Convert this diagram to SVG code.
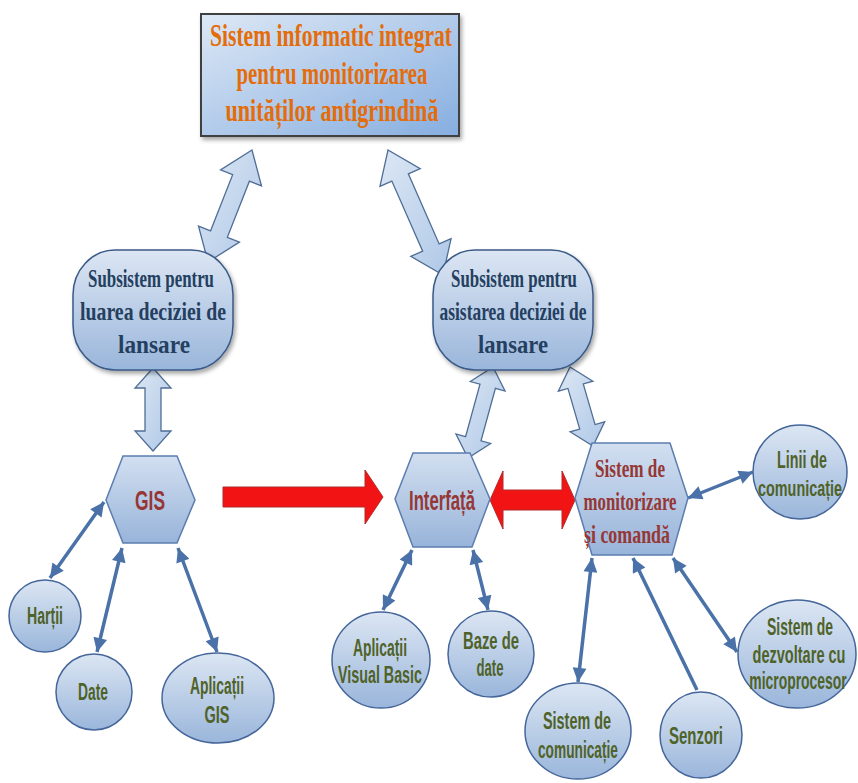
<svg xmlns="http://www.w3.org/2000/svg" width="858" height="783" viewBox="0 0 858 783">
<defs>
<linearGradient id="gTitle" x1="0" y1="0" x2="1" y2="1">
<stop offset="0" stop-color="#DDE8F5"/><stop offset="1" stop-color="#86AEE0"/>
</linearGradient>
<linearGradient id="gNode" x1="0" y1="0" x2="0" y2="1">
<stop offset="0" stop-color="#DCE6F3"/><stop offset="1" stop-color="#9AB6DB"/>
</linearGradient>
<linearGradient id="gHex" x1="0" y1="0" x2="0" y2="1">
<stop offset="0" stop-color="#D2DFF0"/><stop offset="1" stop-color="#98B4DA"/>
</linearGradient>
<linearGradient id="gBlock" x1="0" y1="0" x2="1" y2="1">
<stop offset="0" stop-color="#DCE7F4"/><stop offset="1" stop-color="#AFC8E7"/>
</linearGradient>
<filter id="shadow" x="-10%" y="-10%" width="130%" height="130%">
<feDropShadow dx="2" dy="3" stdDeviation="2" flood-color="#000" flood-opacity="0.35"/>
</filter>
<marker id="ah" viewBox="0 0 10 10" refX="10" refY="5" markerWidth="16" markerHeight="14" markerUnits="userSpaceOnUse" orient="auto-start-reverse">
<path d="M0,0 L10,5 L0,10 z" fill="#4A72A8"/>
</marker>
<style>
.title{font-family:"Liberation Serif",serif;font-weight:bold;font-size:31px;fill:#E46C0A;text-anchor:middle}
.sub{font-family:"Liberation Serif",serif;font-weight:bold;font-size:26px;fill:#243F60;text-anchor:middle}
.hexs{font-family:"Liberation Serif",serif;font-weight:bold;font-size:25px;fill:#953735;text-anchor:middle}
.hext{font-family:"Liberation Sans",Arial,sans-serif;font-weight:bold;font-size:27px;fill:#953735;text-anchor:middle}
.lbl{font-family:"Liberation Sans",Arial,sans-serif;font-weight:bold;font-size:23px;fill:#4F6228;text-anchor:middle}
.node{fill:url(#gNode);stroke:#45669A;stroke-width:1.5}
.hex{fill:url(#gHex);stroke:#5B7DB0;stroke-width:1.5}
.block{fill:url(#gBlock);stroke:#4F6E96;stroke-width:1.3;stroke-linejoin:miter}
.red{fill:#F21414;stroke:#B02A2A;stroke-width:1}
.thin{stroke:#4A72A8;stroke-width:3.5;fill:none}
</style>
</defs>
<rect width="858" height="783" fill="#FFFFFF"/>

<g id="connectors">
<polygon class="block" points="208,262 239.45,242.13 227.35,237.37 249.41,181.21 261.51,185.97 252,150 220.55,169.87 232.65,174.63 210.59,230.79 198.49,226.03"/>
<polygon class="block" points="443,275 451.06,238.68 439.16,243.92 408.32,173.84 420.22,168.6 388,150 379.94,186.32 391.84,181.08 422.68,251.16 410.78,256.4"/>
<polygon class="block" points="153,368 171,388 161,388 161,431 171,431 153,451 135,431 145,431 145,388 135,388"/>
<polygon class="block" points="493,367 505.06,391.06 495.41,388.41 481.01,440.83 490.66,443.48 468,458 455.94,433.94 465.59,436.59 479.99,384.17 470.34,381.52"/>
<polygon class="block" points="570,367 592.87,381.17 583.27,383.96 595.09,424.56 604.69,421.77 593,446 570.13,431.83 579.73,429.04 567.91,388.44 558.31,391.23"/>
<polygon class="red" points="223,487 365,487 365,470 383,497 365,524 365,507 223,507"/>
<polygon class="red" points="490,500 503,471 503,490 562,490 562,471 575,500 562,529 562,510 503,510 503,529"/>
<line class="thin" x1="50" y1="578" x2="104" y2="502" marker-start="url(#ah)" marker-end="url(#ah)"/>
<line class="thin" x1="97" y1="652" x2="122" y2="548" marker-start="url(#ah)" marker-end="url(#ah)"/>
<line class="thin" x1="217" y1="652" x2="178" y2="548" marker-start="url(#ah)" marker-end="url(#ah)"/>
<line class="thin" x1="383" y1="610" x2="412" y2="550" marker-start="url(#ah)" marker-end="url(#ah)"/>
<line class="thin" x1="488" y1="610" x2="473" y2="550" marker-start="url(#ah)" marker-end="url(#ah)"/>
<line class="thin" x1="578" y1="682" x2="592" y2="558" marker-start="url(#ah)" marker-end="url(#ah)"/>
<line class="thin" x1="697" y1="690" x2="633" y2="558" marker-end="url(#ah)"/>
<line class="thin" x1="737" y1="652" x2="673" y2="558" marker-start="url(#ah)" marker-end="url(#ah)"/>
<line class="thin" x1="688" y1="498" x2="753" y2="472" marker-start="url(#ah)" marker-end="url(#ah)"/>
</g>

<g id="title">
<rect x="201" y="14" width="258" height="122" fill="url(#gTitle)" stroke="#404040" stroke-width="2" filter="url(#shadow)"/>
<text class="title" x="331" y="46" textLength="242" lengthAdjust="spacingAndGlyphs">Sistem informatic integrat</text>
<text class="title" x="332" y="84" textLength="191" lengthAdjust="spacingAndGlyphs">pentru monitorizarea</text>
<text class="title" x="332" y="121" textLength="213" lengthAdjust="spacingAndGlyphs">unităților antigrindină</text>
</g>

<g id="subsistem-luare">
<rect x="73" y="250" width="160" height="120" rx="42" ry="45" fill="url(#gNode)" stroke="#3A5A88" stroke-width="1.5" filter="url(#shadow)"/>
<text class="sub" x="151" y="287" textLength="126" lengthAdjust="spacingAndGlyphs">Subsistem pentru</text>
<text class="sub" x="153" y="320" textLength="146" lengthAdjust="spacingAndGlyphs">luarea deciziei de</text>
<text class="sub" x="154" y="353" textLength="72" lengthAdjust="spacingAndGlyphs">lansare</text>
</g>

<g id="subsistem-asistare">
<rect x="433" y="250" width="160" height="120" rx="42" ry="45" fill="url(#gNode)" stroke="#3A5A88" stroke-width="1.5" filter="url(#shadow)"/>
<text class="sub" x="514" y="287" textLength="126" lengthAdjust="spacingAndGlyphs">Subsistem pentru</text>
<text class="sub" x="513" y="320" textLength="147" lengthAdjust="spacingAndGlyphs">asistarea deciziei de</text>
<text class="sub" x="513" y="353" textLength="70" lengthAdjust="spacingAndGlyphs">lansare</text>
</g>

<g id="gis">
<polygon class="hex" points="123,456 177,456 195,500 177,543 123,543 106,500"/>
<text class="hext" x="150" y="510" textLength="30" lengthAdjust="spacingAndGlyphs">GIS</text>
</g>

<g id="interfata">
<polygon class="hex" points="413,453 470,453 490,499 472,547 413,547 395,499"/>
<text class="hext" x="442" y="510" textLength="66" lengthAdjust="spacingAndGlyphs">Interfață</text>
</g>

<g id="sistem-monitorizare">
<polygon class="hex" points="592,443 670,443 688,498 672,555 592,555 575,498"/>
<text class="hexs" x="630" y="477" textLength="70" lengthAdjust="spacingAndGlyphs">Sistem de</text>
<text class="hexs" x="630" y="510" textLength="93" lengthAdjust="spacingAndGlyphs">monitorizare</text>
<text class="hexs" x="627" y="543" textLength="86" lengthAdjust="spacingAndGlyphs">și comandă</text>
</g>

<g id="hartii">
<ellipse class="node" cx="45" cy="616" rx="36" ry="36"/>
<text class="lbl" x="45" y="624" textLength="36" lengthAdjust="spacingAndGlyphs">Harții</text>
</g>

<g id="date">
<ellipse class="node" cx="94" cy="692" rx="38" ry="38"/>
<text class="lbl" x="93" y="700" textLength="30" lengthAdjust="spacingAndGlyphs">Date</text>
</g>

<g id="aplicatii-gis">
<ellipse class="node" cx="218" cy="698" rx="56" ry="45"/>
<text class="lbl" x="217" y="694" textLength="54" lengthAdjust="spacingAndGlyphs">Aplicații</text>
<text class="lbl" x="217" y="723" textLength="25" lengthAdjust="spacingAndGlyphs">GIS</text>
</g>

<g id="aplicatii-vb">
<ellipse class="node" cx="381" cy="660" rx="49" ry="48"/>
<text class="lbl" x="380" y="656" textLength="54" lengthAdjust="spacingAndGlyphs">Aplicații</text>
<text class="lbl" x="380" y="683" textLength="84" lengthAdjust="spacingAndGlyphs">Visual Basic</text>
</g>

<g id="baze-date">
<ellipse class="node" cx="491" cy="654" rx="43" ry="43"/>
<text class="lbl" x="491" y="649" textLength="56" lengthAdjust="spacingAndGlyphs">Baze de</text>
<text class="lbl" x="490" y="676" textLength="27" lengthAdjust="spacingAndGlyphs">date</text>
</g>

<g id="sistem-comunicatie">
<ellipse class="node" cx="578" cy="731" rx="53" ry="48"/>
<text class="lbl" x="577" y="729" textLength="68" lengthAdjust="spacingAndGlyphs">Sistem de</text>
<text class="lbl" x="578" y="758" textLength="80" lengthAdjust="spacingAndGlyphs">comunicație</text>
</g>

<g id="senzori">
<ellipse class="node" cx="701" cy="735" rx="41" ry="43"/>
<text class="lbl" x="696" y="744" textLength="54" lengthAdjust="spacingAndGlyphs">Senzori</text>
</g>

<g id="sistem-dezvoltare">
<ellipse class="node" cx="797" cy="654" rx="59" ry="54"/>
<text class="lbl" transform="translate(800,635) scale(0.607,1)">Sistem de</text>
<text class="lbl" transform="translate(799,663) scale(0.633,1)">dezvoltare cu</text>
<text class="lbl" transform="translate(798,689) scale(0.605,1)">microprocesor</text>
</g>

<g id="linii-comunicatie">
<ellipse class="node" cx="800" cy="472" rx="47" ry="47"/>
<text class="lbl" transform="translate(802,468) scale(0.62,1)">Linii de</text>
<text class="lbl" transform="translate(800,496) scale(0.626,1)">comunicație</text>
</g>
</svg>
